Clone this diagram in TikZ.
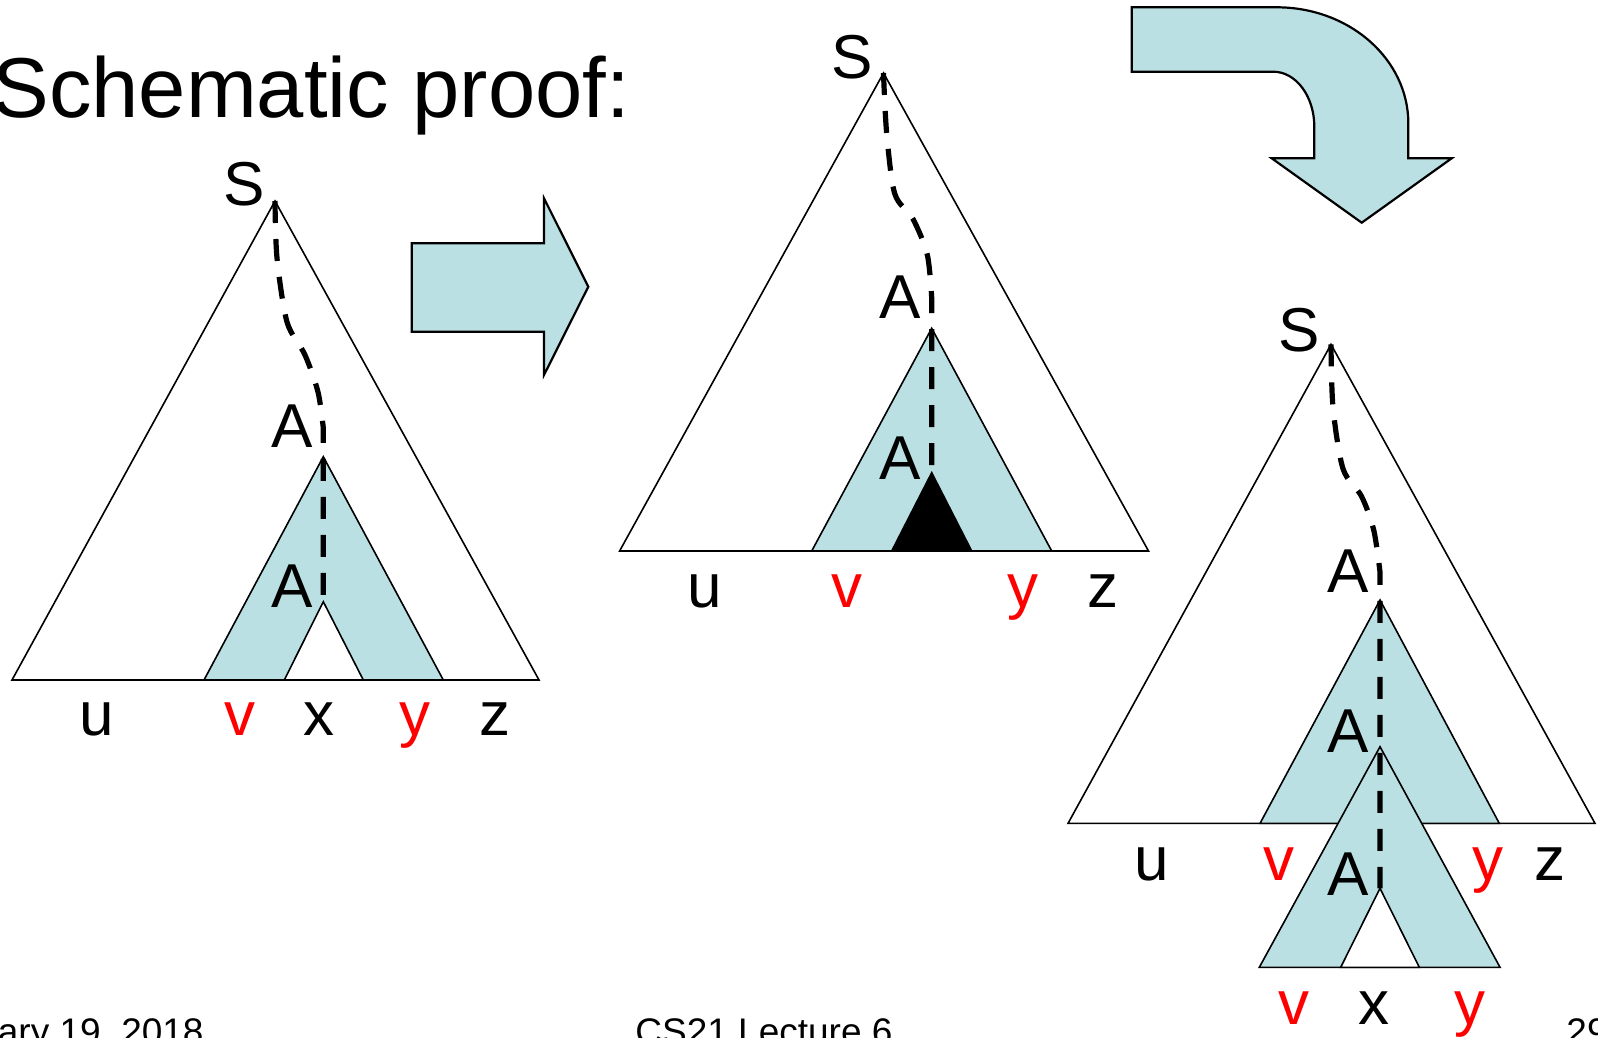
\documentclass[tikz,border=0pt]{standalone}
\usepackage{fontspec}
\setmainfont{Liberation Sans}
\definecolor{ppblue}{RGB}{187,224,227}
\begin{document}
\begin{tikzpicture}[x=0.5pt,y=-0.5pt,
  tri/.style={draw=black,line width=0.8pt,line join=miter},
  subtree/.style={tri,fill=ppblue},
  hole/.style={tri,fill=white},
  blacktri/.style={tri,fill=black},
  spine/.style={line width=2.6pt,dash pattern=on 11pt off 8pt},
  lbl/.style={inner sep=0pt,anchor=base,font=\fontsize{31}{36}\selectfont},
  redlbl/.style={lbl,text=red},
  barrow/.style={draw=black,line width=1.1pt,fill=ppblue,line join=miter},
  foot/.style={inner sep=0pt,font=\fontsize{18.5}{22}\selectfont}]
\useasboundingbox (0,0) rectangle (1598,1037);
\clip (0,0) rectangle (1598,1037);

% title
\node[anchor=base west,inner sep=0pt,font=\fontsize{42.5}{50}\selectfont] (title) at (-8,118) {Schematic proof:};

% footer
\node[foot,anchor=base east] (date) at (204,1044) {ary 19, 2018};
\node[foot,anchor=base] (course) at (764,1044) {CS21 Lecture 6};
\node[foot,anchor=base west] (page) at (1566,1044) {29};

% ---------- left tree ----------
\coordinate (L-S) at (275,201);
\coordinate (L-A1) at (323.3,456.7);
\coordinate (L-A2) at (323.3,601.7);
\draw[tri,fill=white] (L-S) -- (12,680) -- (539,680) -- cycle;
\draw[subtree] (L-A1) -- (204,680) -- (443.3,680) -- cycle;
\draw[hole] (L-A2) -- (284.3,680) -- (363.3,680) -- cycle;
\draw[spine] plot[smooth] coordinates {(L-S) (277,258) (287,322) (305,355) (318,392) (323.3,428)} -- (L-A2);
\node[lbl] (L-lS) at (244.6,206) {S};
\node[lbl] (L-lA1) at (292,447) {A};
\node[lbl] (L-lA2) at (292,607) {A};
\node[lbl] (L-u) at (96.7,735) {u};
\node[redlbl] (L-v) at (240,735) {v};
\node[lbl] (L-x) at (319.3,735) {x};
\node[redlbl] (L-y) at (415,735) {y};
\node[lbl] (L-z) at (495,735) {z};

% right block arrow
\draw[barrow] (411.7,243.3) -- (544,243.3) -- (544,198.3) -- (588.3,286.7) -- (544,375) -- (544,331.7) -- (411.7,331.7) -- cycle;

% ---------- middle tree ----------
\coordinate (M-S) at (883.5,73);
\coordinate (M-A1) at (931.7,328.3);
\coordinate (M-A2) at (931.7,472.7);
\draw[tri,fill=white] (M-S) -- (619.6,551) -- (1148.5,551) -- cycle;
\draw[subtree] (M-A1) -- (811.7,551) -- (1051.7,551) -- cycle;
\draw[blacktri] (M-A2) -- (891.7,551) -- (971.7,551) -- cycle;
\draw[spine] plot[smooth] coordinates {(M-S) (886.6,132.5) (894.7,193.6) (913,219) (927.3,254.8) (931.7,298)} -- (M-A2);
\node[lbl] (M-lS) at (852,79) {S};
\node[lbl] (M-lA1) at (900,318) {A};
\node[lbl] (M-lA2) at (900,479) {A};
\node[lbl] (M-u) at (705,607) {u};
\node[redlbl] (M-v) at (846.7,607) {v};
\node[redlbl] (M-y) at (1023.3,607) {y};
\node[lbl] (M-z) at (1103.3,607) {z};

% curved block arrow
\draw[barrow] (1131.7,7.3) -- (1276.7,7.3) .. controls (1349.4,7.3) and (1408.3,59.2) .. (1408.3,123.3) -- (1408.3,158.3) -- (1451.7,158.3) -- (1361.7,222.7) -- (1271.7,158.3) -- (1314.3,158.3) -- (1314.3,126.7) .. controls (1314.3,96.3) and (1295.9,71.7) .. (1273.3,71.7) -- (1131.7,71.7) -- cycle;

% ---------- right tree ----------
\coordinate (R-S) at (1331,344.4);
\coordinate (R-A1) at (1380,600);
\coordinate (R-A2) at (1380,746.7);
\coordinate (R-A3) at (1380,888.3);
\draw[tri,fill=white] (R-S) -- (1068,823.4) -- (1595,823.4) -- cycle;
\draw[subtree] (R-A1) -- (1260,823.4) -- (1499.3,823.4) -- cycle;
\draw[subtree] (R-A2) -- (1259.3,967.3) -- (1500,967.3) -- cycle;
\draw[hole] (R-A3) -- (1340.7,967.3) -- (1419.3,967.3) -- cycle;
\draw[spine] plot[smooth] coordinates {(R-S) (1333,407.6) (1343,468.8) (1361.5,496.3) (1373.7,530) (1380,572)} -- (R-A3);
\node[lbl] (R-lS) at (1299.3,351) {S};
\node[lbl] (R-lA1) at (1348,592) {A};
\node[lbl] (R-lA2) at (1348,752) {A};
\node[lbl] (R-lA3) at (1348,895) {A};
\node[lbl] (R-u) at (1151.6,880) {u};
\node[redlbl] (R-v) at (1279,880) {v};
\node[redlbl] (R-y) at (1488,880) {y};
\node[lbl] (R-z) at (1550,880) {z};
\node[redlbl] (R-v2) at (1294,1024) {v};
\node[lbl] (R-x2) at (1374,1024) {x};
\node[redlbl] (R-y2) at (1469.5,1024) {y};
\end{tikzpicture}
\end{document}
